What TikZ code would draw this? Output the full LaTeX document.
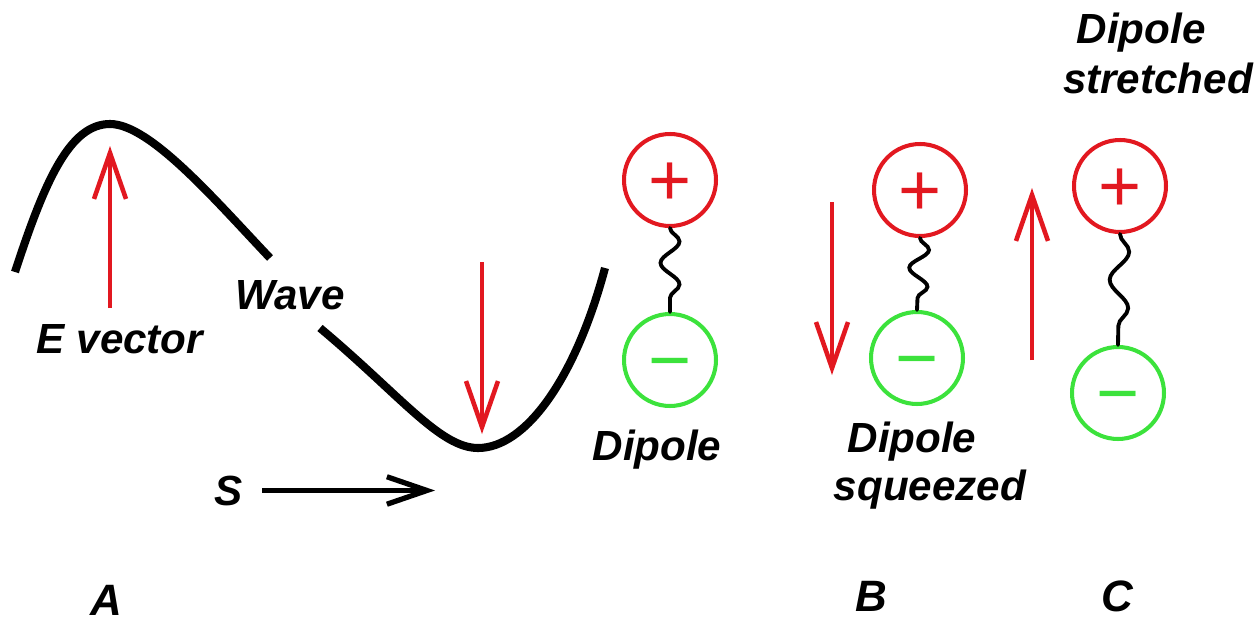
\documentclass[tikz,border=0pt]{standalone}
\usepackage{fontspec}
\setmainfont{Liberation Sans}
\usetikzlibrary{arrows.meta,decorations.pathmorphing}
\definecolor{posred}{RGB}{226,24,32}
\definecolor{neggreen}{RGB}{60,226,60}
\begin{document}
\begin{tikzpicture}[x=0.02cm,y=-0.02cm,
  lbl/.style={font=\fontsize{24}{28}\selectfont\bfseries\itshape, anchor=base, inner sep=0pt},
  letter/.style={lbl, font=\fontsize{25}{30}\selectfont\bfseries\itshape},
  wave/.style={line width=4.6pt, line join=round},
  field/.style={posred, line width=2.4pt, -{Straight Barb[length=0.92cm, width=0.64cm, line width=2.6pt]}},
  ball/.style={circle, draw, line width=2.3pt, minimum size=1.84cm, inner sep=0pt,
    font=\fontsize{42}{42}\selectfont, text height=28.5pt, text depth=0pt},
  plusball/.style={ball, draw=posred, text=posred},
  minusball/.style={ball, draw=neggreen, text=neggreen},
  spring/.style={line width=2.2pt, line cap=round, decorate, decoration={snake, amplitude=0.19cm, segment length=#1}},
]
\path[use as bounding box] (0,0) rectangle (1255,622);

% the wave, interrupted by its label
\draw[wave] (15,272) .. controls (45,180) and (70,124) .. (110,124)
                     .. controls (150,124) and (215,200) .. (270,258);
\draw[wave] (320,328) .. controls (400,395) and (440,448) .. (478,448)
                      .. controls (525,448) and (575,380) .. (605,268);

% field vectors
\coordinate (e1s) at (110,308); \coordinate (e1t) at (110,146);
\draw[field] (e1s) -- (e1t);
\coordinate (e2s) at (482,262); \coordinate (e2t) at (482,434);
\draw[field] (e2s) -- (e2t);
\coordinate (e3s) at (832,202); \coordinate (e3t) at (832,375);
\draw[field] (e3s) -- (e3t);
\coordinate (e4s) at (1032,360); \coordinate (e4t) at (1032,188);
\draw[field] (e4s) -- (e4t);

% dipoles: resting, squeezed, stretched
\node[plusball] (p1) at (670,180) {+};
\node[minusball] (m1) at (670,360) {−};
\draw[spring=0.86cm] (p1.south) -- (m1.north);

\node[plusball] (p2) at (920,190) {+};
\node[minusball] (m2) at (917,358) {−};
\draw[spring=0.74cm] (p2.south) -- (m2.north);

\node[plusball] (p3) at (1120,186) {+};
\node[minusball] (m3) at (1118,393) {−};
\draw[spring=1.13cm] (p3.south) -- (m3.north);

% labels
\node[lbl] (ev) at (120,353) {E vector};
\node[lbl] (wv) at (290,309) {Wave};
\node[lbl] (d1) at (657,460) {Dipole};
\node[lbl] (d2) at (912,452) {Dipole};
\node[lbl] (sq) at (930,500) {squeezed};
\node[lbl] (d3) at (1141,43) {Dipole};
\node[lbl] (st) at (1158,93) {stretched};

% propagation direction
\node[lbl] (s) at (229,505) {S};
\coordinate (sEnd) at (435,493);
\draw[line width=2.8pt, -{Straight Barb[length=0.8cm, width=0.55cm, line width=3pt]}] ([xshift=0.38cm]s.east) -- (s.east -| sEnd);

% panel letters
\node[letter] (A) at (106,615) {A};
\node[letter] (B) at (871,611) {B};
\node[letter] (C) at (1117,611) {C};
\end{tikzpicture}
\end{document}
